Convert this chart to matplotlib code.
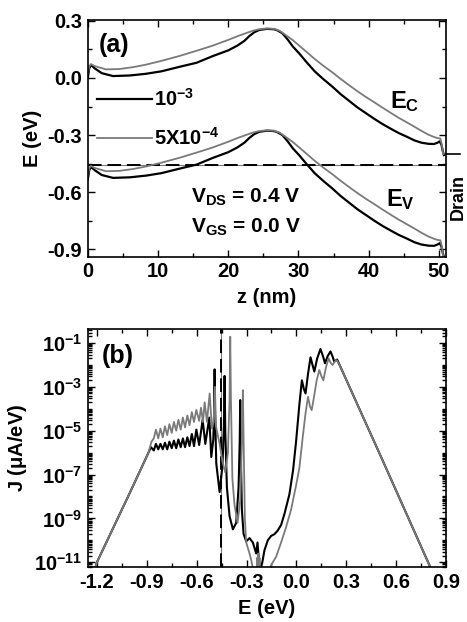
import matplotlib
matplotlib.use("Agg")
import matplotlib.pyplot as plt
import numpy as np
from matplotlib.ticker import MultipleLocator, FixedLocator, LogLocator, NullFormatter, FuncFormatter

# ---- panel (a): band edges along the channel (z in nm, E in eV)
Z_BLACK = [0.0, 0.2, 0.45, 1.0, 2.0, 3.6, 6.0, 8.3, 10.5, 13.0, 15.5, 17.8, 20.0, 21.3, 22.3, 23.0,
           23.7, 24.4, 25.5, 26.5, 27.0, 27.7, 28.4, 29.2, 30.1, 31.1, 32.3, 33.5, 34.8, 36.0, 37.2,
           38.4, 39.6, 40.8, 42.0, 43.2, 44.3, 45.5, 46.5, 47.5, 48.5, 49.3, 49.8, 50.1, 50.35, 50.55, 50.7]
EC_BLACK = [0.0, 0.05, 0.068, 0.05, 0.025, 0.01, 0.013, 0.022, 0.035, 0.058, 0.08, 0.115, 0.145, 0.17,
            0.195, 0.22, 0.24, 0.252, 0.258, 0.256, 0.25, 0.235, 0.205, 0.165, 0.129, 0.085, 0.035,
            -0.005, -0.045, -0.085, -0.12, -0.155, -0.185, -0.215, -0.243, -0.268, -0.29, -0.31,
            -0.328, -0.34, -0.346, -0.347, -0.34, -0.333, -0.35, -0.385, -0.405]
EV_BLACK = [-0.535, -0.485, -0.467, -0.485, -0.51, -0.525, -0.522, -0.513, -0.5, -0.477, -0.455, -0.42,
            -0.39, -0.365, -0.34, -0.315, -0.295, -0.283, -0.277, -0.279, -0.285, -0.3, -0.33, -0.37,
            -0.406, -0.45, -0.5, -0.54, -0.58, -0.62, -0.655, -0.69, -0.72, -0.75, -0.778, -0.803,
            -0.825, -0.845, -0.863, -0.875, -0.881, -0.882, -0.875, -0.868, -0.885, -0.92, -0.94]

Z_GRAY = [0.0, 0.2, 0.45, 1.0, 2.6, 4.5, 6.5, 8.3, 10.5, 13.0, 15.5, 17.8, 20.0, 21.5, 22.5, 23.5, 24.4,
          25.5, 26.5, 27.3, 28.2, 29.2, 30.1, 31.2, 32.3, 33.5, 34.8, 36.0, 37.2, 38.4, 39.6, 40.8,
          42.0, 43.2, 44.3, 45.5, 46.5, 47.5, 48.5, 49.3, 49.8, 50.2, 50.4, 50.6]
EC_GRAY = [0.02, 0.06, 0.073, 0.062, 0.045, 0.047, 0.057, 0.07, 0.09, 0.115, 0.143, 0.17, 0.2, 0.222,
           0.235, 0.248, 0.256, 0.26, 0.258, 0.248, 0.225, 0.198, 0.17, 0.135, 0.1, 0.065, 0.03, -0.005,
           -0.038, -0.07, -0.1, -0.128, -0.157, -0.185, -0.21, -0.235, -0.256, -0.278, -0.298, -0.31,
           -0.316, -0.318, -0.35, -0.40]
EV_GRAY = [-0.515, -0.475, -0.462, -0.473, -0.49, -0.488, -0.478, -0.465, -0.445, -0.42, -0.392, -0.365,
           -0.335, -0.313, -0.3, -0.287, -0.279, -0.275, -0.277, -0.287, -0.31, -0.337, -0.365, -0.4,
           -0.435, -0.47, -0.505, -0.54, -0.573, -0.605, -0.635, -0.663, -0.692, -0.72, -0.745, -0.77,
           -0.791, -0.813, -0.833, -0.845, -0.851, -0.853, -0.885, -0.935]

FERMI_E = -0.455
DRAIN_E = -0.398
LABELS = [r"$10^{-3}$", r"$5X10^{-4}$"]

# ---- panel (b): current spectrum, stored as log10 J (uA/eV)
E_BLACK = [-1.215, -1.2, -1.1, -1.0, -0.89, -0.875, -0.858, -0.845, -0.831, -0.818, -0.804, -0.791,
           -0.777, -0.764, -0.75, -0.737, -0.723, -0.71, -0.696, -0.683, -0.67, -0.656, -0.643, -0.629,
           -0.616, -0.602, -0.585, -0.564, -0.548, -0.524, -0.512, -0.5, -0.494, -0.492, -0.49, -0.482,
           -0.462, -0.445, -0.436, -0.432, -0.428, -0.418, -0.402, -0.382, -0.362, -0.348, -0.341,
           -0.338, -0.335, -0.328, -0.318, -0.302, -0.282, -0.262, -0.242, -0.234, -0.228, -0.218,
           -0.205, -0.192, -0.172, -0.152, -0.132, -0.112, -0.092, -0.072, -0.042, -0.02, -0.002,
           0.018, 0.033, 0.045, 0.055, 0.07, 0.085, 0.097, 0.108, 0.125, 0.145, 0.16, 0.172, 0.188,
           0.205, 0.217, 0.228, 0.245, 0.26, 0.518, 0.8, 0.815]
LOGJ_BLACK = [-11.4, -11.0, -9.4, -7.8, -6.0, -5.75, -5.9, -5.6, -5.85, -5.6, -5.85, -5.55, -5.85, -5.5,
              -5.8, -5.45, -5.8, -5.4, -5.75, -5.35, -5.75, -5.3, -5.7, -5.15, -5.7, -4.95, -5.65, -4.5,
              -5.6, -4.4, -6.2, -5.4, -4.0, -2.2, -4.0, -6.5, -7.8, -6.6, -4.8, -2.5, -5.0, -7.6, -8.9,
              -9.5, -9.2, -7.6, -5.5, -3.6, -5.8, -8.6, -9.7, -10.05, -9.9, -10.1, -10.6, -10.1, -10.7,
              -11.4, -11.0, -10.45, -10.0, -9.8, -9.72, -9.55, -9.3, -8.8, -7.9, -6.8, -5.5, -3.8, -2.7,
              -3.1, -3.3, -2.4, -1.65, -2.0, -2.3, -1.7, -1.27, -1.6, -1.92, -1.6, -1.38, -1.6, -1.85,
              -1.75, -2.0, -6.34, -11.13, -11.4]

E_GRAY = [-1.215, -1.2, -1.1, -1.0, -0.89, -0.872, -0.858, -0.845, -0.831, -0.818, -0.804, -0.791,
          -0.777, -0.764, -0.75, -0.737, -0.723, -0.71, -0.696, -0.683, -0.67, -0.656, -0.643, -0.629,
          -0.616, -0.602, -0.585, -0.574, -0.562, -0.552, -0.538, -0.522, -0.508, -0.498, -0.49,
          -0.484, -0.462, -0.445, -0.428, -0.412, -0.402, -0.398, -0.394, -0.385, -0.372, -0.354,
          -0.338, -0.326, -0.322, -0.318, -0.31, -0.302, -0.282, -0.272, -0.258, -0.24, -0.236,
          -0.232, -0.229, -0.226, -0.222, -0.218, -0.19, -0.162, -0.142, -0.122, -0.092, -0.062,
          -0.032, -0.002, 0.018, 0.038, 0.055, 0.07, 0.082, 0.092, 0.105, 0.122, 0.138, 0.15, 0.162,
          0.178, 0.194, 0.206, 0.218, 0.23, 0.242, 0.26, 0.518, 0.8, 0.815]
LOGJ_GRAY = [-11.4, -11.0, -9.4, -7.8, -6.0, -5.5, -5.35, -4.95, -5.35, -4.9, -5.3, -4.8, -5.2, -4.7,
             -5.1, -4.6, -5.0, -4.5, -4.95, -4.4, -4.85, -4.3, -4.75, -4.15, -4.6, -4.05, -4.55, -3.95,
             -4.6, -3.7, -4.6, -3.3, -4.9, -4.6, -3.0, -4.8, -5.6, -6.4, -6.9, -6.0, -3.5, -0.71, -3.5,
             -7.2, -8.4, -9.2, -8.2, -5.0, -3.15, -5.2, -9.0, -10.1, -10.6, -10.9, -11.4, -11.5, -10.8,
             -11.5, -10.6, -11.5, -10.8, -11.5, -11.6, -11.3, -11.0, -10.75, -10.1, -9.4, -8.6, -7.5,
             -6.7, -5.3, -4.2, -3.45, -3.9, -4.06, -3.5, -2.7, -2.23, -2.5, -2.7, -2.1, -1.7, -1.9, -2.0,
             -1.85, -1.78, -2.0, -6.34, -11.13, -11.4]

BLACK = "#000000"
GRAY = "#7a7a7a"
FS = 14.5


def style_axes(ax):
    ax.tick_params(which="both", direction="in", top=True, right=True, labelsize=FS, width=1.0)
    ax.tick_params(which="major", length=5, pad=4)
    ax.tick_params(which="minor", length=3)
    for spine in ax.spines.values():
        spine.set_linewidth(1.2)


def main():
    plt.rcParams["font.family"] = ["Liberation Sans", "DejaVu Sans"]
    plt.rcParams["font.weight"] = "bold"
    plt.rcParams["axes.labelweight"] = "bold"
    plt.rcParams["axes.unicode_minus"] = False
    plt.rcParams["mathtext.fontset"] = "custom"
    plt.rcParams["mathtext.rm"] = "Liberation Sans:bold"
    plt.rcParams["mathtext.it"] = "Liberation Sans:bold"
    plt.rcParams["mathtext.bf"] = "Liberation Sans:bold"
    plt.rcParams["mathtext.default"] = "rm"

    fig = plt.figure(figsize=(4.67, 6.22), dpi=100)
    ax_a = fig.add_axes([0.188, 0.587, 0.767, 0.381])
    ax_b = fig.add_axes([0.188, 0.088, 0.767, 0.383])

    # panel (a)
    ax_a.axhline(FERMI_E, color=GRAY, lw=0.8)
    ax_a.axhline(FERMI_E, color=BLACK, lw=1.4, dashes=(7, 3))
    h1, = ax_a.plot(Z_BLACK, EC_BLACK, color=BLACK, lw=1.6, label=LABELS[0])
    ax_a.plot(Z_BLACK, EV_BLACK, color=BLACK, lw=1.6)
    h2, = ax_a.plot(Z_GRAY, EC_GRAY, color=GRAY, lw=1.3, label=LABELS[1])
    ax_a.plot(Z_GRAY, EV_GRAY, color=GRAY, lw=1.3)
    ax_a.axhline(DRAIN_E, xmin=1.0, xmax=1.04, color=BLACK, lw=1.2, clip_on=False)

    ax_a.set_xlim(0, 51)
    ax_a.set_ylim(-0.94, 0.305)
    ax_a.xaxis.set_major_locator(MultipleLocator(10))
    ax_a.xaxis.set_minor_locator(MultipleLocator(5))
    ax_a.yaxis.set_major_locator(FixedLocator([-0.9, -0.6, -0.3, 0.0, 0.3]))
    ax_a.yaxis.set_minor_locator(MultipleLocator(0.15))
    ax_a.yaxis.set_major_formatter(FuncFormatter(lambda v, p: f"{v:.1f}"))
    style_axes(ax_a)
    ax_a.set_xlabel("z (nm)", fontsize=FS, labelpad=5)
    ax_a.set_ylabel("E (eV)", fontsize=FS, labelpad=4)

    ax_a.legend(handles=[h1, h2], loc="center left", bbox_to_anchor=(0.025, 0.584), frameon=False,
                fontsize=FS, handlelength=2.75, handletextpad=0.1, labelspacing=0.85,
                borderpad=0, borderaxespad=0)

    ax_a.text(1.5, 0.175, "(a)", fontsize=18, va="center", ha="left")
    ax_a.text(43.0, -0.125, r"E$_\mathregular{C}$", fontsize=17, va="center", ha="left")
    ax_a.text(42.5, -0.64, r"E$_\mathregular{V}$", fontsize=17, va="center", ha="left")
    ax_a.text(14.7, -0.626, r"V$_\mathregular{DS}$ = 0.4 V", fontsize=15, va="center", ha="left")
    ax_a.text(14.7, -0.785, r"V$_\mathregular{GS}$ = 0.0 V", fontsize=15, va="center", ha="left")
    fig.text(0.999, 0.683, "Drain", rotation=90, fontsize=13, va="center", ha="right")

    # panel (b)
    ax_b.axvline(FERMI_E, color=GRAY, lw=0.8)
    ax_b.axvline(FERMI_E, color=BLACK, lw=1.4, dashes=(7, 3))
    ax_b.plot(E_BLACK, 10.0 ** np.array(LOGJ_BLACK), color=BLACK, lw=1.5)
    ax_b.plot(E_GRAY, 10.0 ** np.array(LOGJ_GRAY), color=GRAY, lw=1.3)
    ax_b.set_yscale("log")
    ax_b.set_xlim(-1.255, 0.9)
    ax_b.set_ylim(10 ** -11.23, 10 ** -0.36)
    ax_b.xaxis.set_major_locator(MultipleLocator(0.3))
    ax_b.xaxis.set_minor_locator(MultipleLocator(0.15))
    ax_b.xaxis.set_major_formatter(FuncFormatter(lambda v, p: f"{v:.1f}"))
    ax_b.yaxis.set_major_locator(FixedLocator([10.0 ** k for k in range(-11, 0, 2)]))
    ax_b.yaxis.set_major_formatter(FuncFormatter(lambda v, p: r"$10^{%d}$" % round(np.log10(v))))
    ax_b.yaxis.set_minor_locator(LogLocator(base=10, subs=np.arange(1, 10), numticks=100))
    ax_b.yaxis.set_minor_formatter(NullFormatter())
    style_axes(ax_b)
    ax_b.set_xlabel("E (eV)", fontsize=FS, labelpad=5)
    ax_b.set_ylabel(r"J ($\mu$A/eV)", fontsize=FS, labelpad=4)
    ax_b.text(0.04, 0.885, "(b)", transform=ax_b.transAxes, fontsize=18, va="center", ha="left")

    fig.savefig("out.png", dpi=100)


if __name__ == "__main__":
    main()
